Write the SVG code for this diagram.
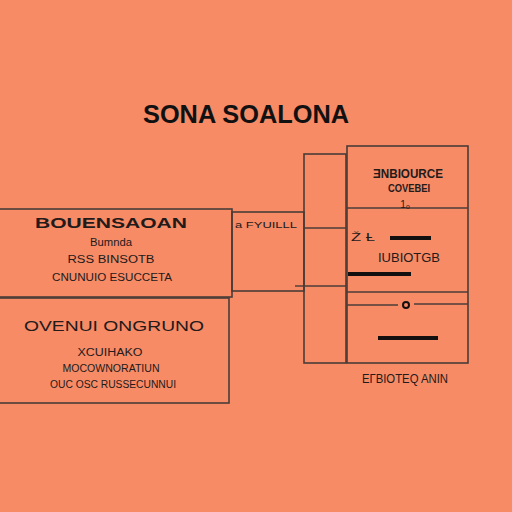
<svg xmlns="http://www.w3.org/2000/svg" width="512" height="512" viewBox="0 0 512 512">
<style>
.box{fill:none;stroke:#4a3c38;stroke-width:1.6}
.ln{stroke:#4a3c38;stroke-width:1.4;fill:none}
.bar{fill:#151010}
.t{font-family:"Liberation Sans",Arial,sans-serif;fill:#231a1a;text-anchor:middle}
.h{font-weight:bold}
.s{font-size:10px}
</style>
<rect width="512" height="512" fill="#F68B66"/>
<text class="t h" x="246" y="123" font-size="25" fill="#111" style="fill:#111" textLength="206" lengthAdjust="spacingAndGlyphs">SONA SOALONA</text>

<g id="box-left-1">
<rect class="box" x="-2" y="209" width="234" height="88"/>
<text class="t h" x="111" y="228" font-size="15" textLength="152" lengthAdjust="spacingAndGlyphs">BOUENSAOAN</text>
<text class="t s" x="111" y="246" textLength="42" lengthAdjust="spacingAndGlyphs">Bumnda</text>
<text class="t s" x="111" y="263" textLength="87" lengthAdjust="spacingAndGlyphs">RSS BINSOTB</text>
<text class="t s" x="112" y="281" textLength="120" lengthAdjust="spacingAndGlyphs">CNUNUIO ESUCCETA</text>
</g>

<g id="box-left-2">
<rect class="box" x="-2" y="298" width="231" height="105"/>
<text class="t" x="114" y="331" font-size="15" textLength="180" lengthAdjust="spacingAndGlyphs">OVENUI ONGRUNO</text>
<text class="t s" x="110" y="356" textLength="65" lengthAdjust="spacingAndGlyphs">XCUIHAKO</text>
<text class="t s" x="111" y="372" textLength="97" lengthAdjust="spacingAndGlyphs">MOCOWNORATIUN</text>
<text class="t s" x="113" y="388" textLength="126" lengthAdjust="spacingAndGlyphs">OUC OSC RUSSECUNNUI</text>
</g>

<g id="connectors">
<rect class="box" x="232" y="212" width="72" height="79"/>
<text class="t" x="266" y="228" font-size="9" textLength="62" lengthAdjust="spacingAndGlyphs">a FYUILLL</text>
<line class="ln" x1="295" y1="286" x2="304" y2="286"/>
</g>

<g id="column-middle">
<rect class="box" x="304" y="154" width="42" height="209"/>
<line class="ln" x1="304" y1="228" x2="346" y2="228"/>
<line class="ln" x1="304" y1="286" x2="346" y2="286"/>
</g>

<g id="column-right">
<rect class="box" x="347" y="146" width="121" height="217"/>
<line class="ln" x1="347" y1="208" x2="468" y2="208"/>
<line class="ln" x1="347" y1="292" x2="468" y2="292"/>
<text class="t h" x="408" y="178" font-size="13" textLength="70" lengthAdjust="spacingAndGlyphs">ƎNBIOURCE</text>
<text class="t h" x="409" y="192" font-size="11" textLength="42" lengthAdjust="spacingAndGlyphs">COVEBEI</text>
<text class="t" x="405" y="208" font-size="10">1ₒ</text>
<text class="t" x="363" y="241" font-size="11" textLength="24" lengthAdjust="spacingAndGlyphs">Ž Ƚ</text>
<rect class="bar" x="390" y="236" width="41" height="4"/>
<text class="t" x="409" y="262" font-size="13" textLength="62" lengthAdjust="spacingAndGlyphs">IUBIOTGB</text>
<rect class="bar" x="348" y="272" width="63" height="4"/>
<line class="ln" x1="347" y1="305" x2="398" y2="305" stroke-width="1"/>
<circle cx="406" cy="305" r="3" fill="none" stroke="#151010" stroke-width="2"/>
<line class="ln" x1="414" y1="304" x2="468" y2="304" stroke-width="1"/>
<rect class="bar" x="378" y="336" width="60" height="4"/>
</g>

<g id="label-bottom">
<text class="t" x="405" y="383" font-size="12" textLength="86" lengthAdjust="spacingAndGlyphs">EГBIOTEQ ANIN</text>
</g>
</svg>
